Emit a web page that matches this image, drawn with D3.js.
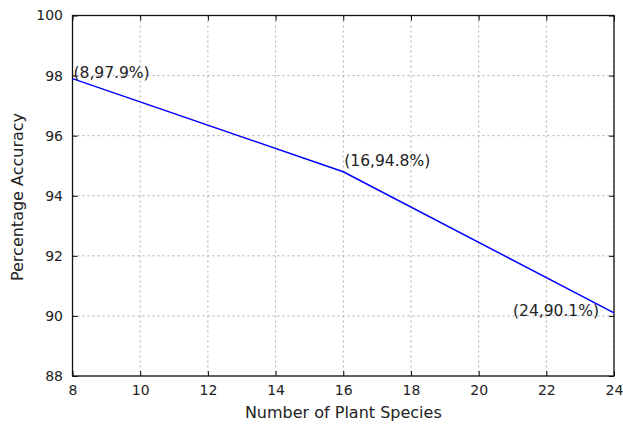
<!DOCTYPE html>
<html><head><meta charset="utf-8">
<script src="https://cdn.jsdelivr.net/npm/d3@7"></script>
<style>body{margin:0;background:#fff;} svg{display:block;}</style>
</head><body>
<svg id="c" width="623" height="424"></svg>
<script>
const species = [8, 16, 24];
const accuracy = [97.9, 94.8, 90.1];
const labels = ["(8,97.9%)", "(16,94.8%)", "(24,90.1%)"];
const xTicks = [8, 10, 12, 14, 16, 18, 20, 22, 24];
const yTicks = [88, 90, 92, 94, 96, 98, 100];

(function () {
const m = {l: 72.5, r: 614, t: 15.5, b: 376};
const svg = d3.select("#c");
const x = d3.scaleLinear().domain([8, 24]).range([m.l, m.r]);
const y = d3.scaleLinear().domain([88, 100]).range([m.b, m.t]);
const font = "DejaVu Sans, sans-serif";

// grid
const g = svg.append("g");
g.selectAll(".gx").data(xTicks).join("line")
  .attr("x1", d => x(d)).attr("x2", d => x(d)).attr("y1", m.t).attr("y2", m.b)
  .attr("stroke", "#999").attr("stroke-width", 0.8).attr("stroke-dasharray", "2,3");
g.selectAll(".gy").data(yTicks).join("line")
  .attr("y1", d => y(d)).attr("y2", d => y(d)).attr("x1", m.l).attr("x2", m.r)
  .attr("stroke", "#999").attr("stroke-width", 0.8).attr("stroke-dasharray", "2,3");

// axes with inward ticks
const ax = svg.append("g");
ax.append("g").attr("transform", `translate(0,${m.b})`)
  .call(d3.axisBottom(x).tickValues(xTicks).tickSizeInner(-5).tickSizeOuter(0).tickPadding(9));
ax.append("g").attr("transform", `translate(0,${m.t})`)
  .call(d3.axisTop(x).tickValues(xTicks).tickSizeInner(-5).tickSizeOuter(0).tickFormat(""));
ax.append("g").attr("transform", `translate(${m.l},0)`)
  .call(d3.axisLeft(y).tickValues(yTicks).tickSizeInner(-5).tickSizeOuter(0).tickPadding(9.5));
ax.append("g").attr("transform", `translate(${m.r},0)`)
  .call(d3.axisRight(y).tickValues(yTicks).tickSizeInner(-5).tickSizeOuter(0).tickFormat(""));
ax.selectAll("g").attr("font-family", font).attr("font-size", 14);
ax.selectAll(".domain").remove();
ax.selectAll(".tick line").attr("stroke", "#000");
ax.selectAll(".tick text").attr("fill", "#222");

svg.append("rect").attr("x", m.l).attr("y", m.t).attr("width", m.r - m.l).attr("height", m.b - m.t)
  .attr("fill", "none").attr("stroke", "#111").attr("stroke-width", 1.3);

// line
const pts = species.map((s, i) => [s, accuracy[i]]);
svg.append("path").datum(pts)
  .attr("d", d3.line().x(d => x(d[0])).y(d => y(d[1])))
  .attr("fill", "none").attr("stroke", "#0000ff").attr("stroke-width", 1.5);

// annotations
const offs = [[1, -1], [1, -6], [-101, 3.5]];
svg.selectAll(".ann").data(pts).join("text")
  .attr("x", (d, i) => x(d[0]) + offs[i][0]).attr("y", (d, i) => y(d[1]) + offs[i][1])
  .attr("font-family", font).attr("font-size", 15.5).attr("fill", "#222")
  .text((d, i) => labels[i]);

// axis labels
svg.append("text").attr("x", 343.3).attr("y", 418).attr("text-anchor", "middle")
  .attr("font-family", font).attr("font-size", 16).attr("fill", "#222").text("Number of Plant Species");
svg.append("text").attr("transform", `translate(23,197) rotate(-90)`)
  .attr("text-anchor", "middle").attr("font-family", font).attr("font-size", 16).attr("fill", "#222")
  .text("Percentage Accuracy");
})();
</script>
</body></html>
